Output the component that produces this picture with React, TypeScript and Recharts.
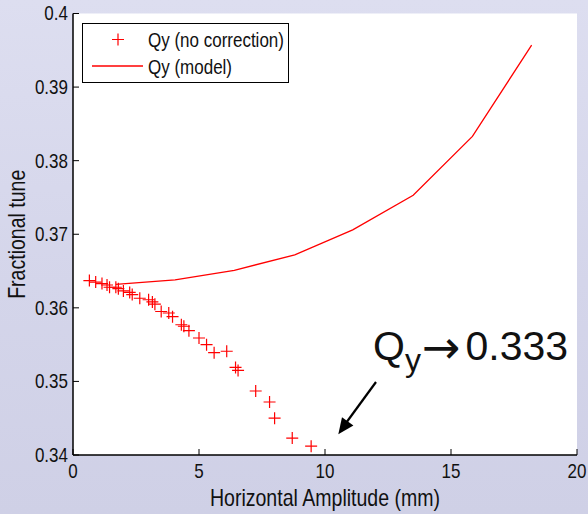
import React from "react"
import { ScatterChart, Scatter, XAxis, YAxis, CartesianGrid, Legend } from "recharts"

// measured amplitude (mm) and vertical tune, no correction
const ampNoCorr = [
  0.65, 0.9, 1.15, 1.35, 1.45, 1.7, 1.8, 2.0, 2.25, 2.35, 2.65, 3.0, 3.15, 3.25, 3.5, 3.8,
  3.95, 4.3, 4.4, 4.6, 5.0, 5.3, 5.6, 6.1, 6.45, 6.55, 7.25, 7.8, 8.0, 8.7, 9.45,
]
const tuneNoCorr = [
  0.3637, 0.3635, 0.3633, 0.3631, 0.3628, 0.3628, 0.3626, 0.3623, 0.3621, 0.3618, 0.3613,
  0.3611, 0.3608, 0.3605, 0.3595, 0.3593, 0.3588, 0.3577, 0.3575, 0.3569, 0.3559, 0.355,
  0.3539, 0.3541, 0.3519, 0.3515, 0.3487, 0.3472, 0.345, 0.3423, 0.3412,
]

// model curve
const ampModel = [1.7, 4.05, 6.4, 8.8, 11.1, 13.5, 15.85, 18.2]
const tuneModel = [0.3632, 0.3638, 0.3651, 0.3672, 0.3706, 0.3753, 0.3833, 0.3957]

const xTicks = [0, 5, 10, 15, 20]
const yTicks = [0.34, 0.35, 0.36, 0.37, 0.38, 0.39, 0.4]

const FONT = "'Liberation Sans', Arial, Helvetica, sans-serif"
const RED = "#ff0000"
const SX = 0.85 // text in the original is a bit squashed horizontally

const squash = (x: number) => `translate(${x} 0) scale(${SX} 1) translate(${-x} 0)`

const noCorr = ampNoCorr.map((x, i) => ({ x, y: tuneNoCorr[i] }))
const model = ampModel.map((x, i) => ({ x, y: tuneModel[i] }))

const BottomTick = ({ x, y, payload }: any) => (
  <g>
    <line x1={x} y1={y} x2={x} y2={y - 6} stroke="#000" />
    <text x={x} y={y + 23} textAnchor="middle" fontSize={20} fontFamily={FONT} fill="#111" transform={squash(x)}>
      {payload.value}
    </text>
  </g>
)

const TopTick = ({ x, y }: any) => <line x1={x} y1={y} x2={x} y2={y + 6} stroke="#000" />

const LeftTick = ({ x, y, payload }: any) => (
  <g>
    <line x1={x} y1={y} x2={x + 6} y2={y} stroke="#000" />
    <text x={x - 5} y={y + 7} textAnchor="end" fontSize={20} fontFamily={FONT} fill="#111" transform={squash(x - 5)}>
      {String(payload.value)}
    </text>
  </g>
)

const RightTick = ({ x, y }: any) => <line x1={x} y1={y} x2={x - 6} y2={y} stroke="#000" />

const Plus = ({ cx, cy }: any) => (
  <path d={`M${cx - 6},${cy}h12M${cx},${cy - 6}v12`} stroke={RED} strokeWidth={1.2} fill="none" />
)

const XTitle = ({ viewBox }: any) => {
  const cx = viewBox.x + viewBox.width / 2
  return (
    <text x={cx} y={viewBox.y + 51} textAnchor="middle" fontSize={23} fontFamily={FONT} fill="#111" transform={squash(cx)}>
      Horizontal Amplitude (mm)
    </text>
  )
}

const YTitle = ({ viewBox }: any) => {
  const cy = viewBox.y + viewBox.height / 2
  return (
    <text x={0} y={0} textAnchor="middle" fontSize={23} fontFamily={FONT} fill="#111"
      transform={`translate(25 ${cy}) rotate(-90) scale(${SX} 1)`}>
      Fractional tune
    </text>
  )
}

const LegendBox = () => (
  <svg width={207} height={60} style={{ display: "block" }}>
    <rect x={0.5} y={0.5} width={206} height={59} fill="#fff" stroke="#000" />
    <path d="M30,16.5h12M36,10.5v12" stroke={RED} strokeWidth={1.2} />
    <text x={66} y={24} fontSize={20} fontFamily={FONT} fill="#111" transform={squash(66)}>
      Qy (no correction)
    </text>
    <line x1={10} y1={43} x2={61} y2={43} stroke={RED} strokeWidth={1.3} />
    <text x={66} y={51} fontSize={20} fontFamily={FONT} fill="#111" transform={squash(66)}>
      Qy (model)
    </text>
  </svg>
)

export default function App() {
  return (
    <div
      style={{
        position: "absolute", left: 0, top: 0, width: 588, height: 514,
        background: "linear-gradient(180deg, #dddef0 0%, #d4d5ea 55%, #cfd0e6 100%)",
      }}
    >
      <ScatterChart width={588} height={514} margin={{ top: 13.5, right: 11, bottom: 29, left: 13 }}>
        <CartesianGrid fill="#fff" horizontal={false} vertical={false} />
        <XAxis
          type="number" dataKey="x" domain={[0, 20]} ticks={xTicks} allowDataOverflow
          height={30} tickSize={0} tickMargin={0} tickLine={false} tick={BottomTick}
          axisLine={{ stroke: "#000", strokeWidth: 1.5 }} label={XTitle}
        />
        <XAxis
          xAxisId="top" orientation="top" type="number" domain={[0, 20]} ticks={xTicks} allowDataOverflow
          height={0} tickSize={0} tickMargin={0} tickLine={false} tick={TopTick}
          axisLine={{ stroke: "#000", strokeWidth: 1.5 }}
        />
        <YAxis
          type="number" dataKey="y" domain={[0.34, 0.4]} ticks={yTicks} allowDataOverflow
          width={60} tickSize={0} tickMargin={0} tickLine={false} tick={LeftTick}
          axisLine={{ stroke: "#000", strokeWidth: 1.5 }} label={YTitle}
        />
        <YAxis
          yAxisId="right" orientation="right" type="number" domain={[0.34, 0.4]} ticks={yTicks} allowDataOverflow
          width={0} tickSize={0} tickMargin={0} tickLine={false} tick={RightTick}
          axisLine={{ stroke: "#000", strokeWidth: 1.5 }}
        />
        <Legend
          layout="horizontal" verticalAlign="middle" align="center"
          content={LegendBox}
          wrapperStyle={{ position: "absolute", left: 82, top: 23, width: 207, height: 60, margin: 0 }}
        />
        <Scatter name="Qy (model)" data={model} isAnimationActive={false}
          line={{ stroke: RED, strokeWidth: 1.3 }} shape={() => <g />} />
        <Scatter name="Qy (no correction)" data={noCorr} isAnimationActive={false} shape={Plus} />
      </ScatterChart>
      <svg width={588} height={514} style={{ position: "absolute", left: 0, top: 0, pointerEvents: "none" }}>
        <text x={373} y={360} fontSize={41} fontFamily={FONT} fill="#111">
          Q
          <tspan fontSize={32} dy={11}>y</tspan>
          <tspan fontSize={46} dy={-8} dx={1} fontFamily="'DejaVu Sans', sans-serif">→</tspan>
          <tspan fontSize={41} dy={-3} dx={5}>0.333</tspan>
        </text>
        <line x1={376} y1={382} x2={346} y2={423} stroke="#000" strokeWidth={2.2} />
        <polygon points="338.3,434.3 353.4,425.5 342,417.3" fill="#000" />
      </svg>
    </div>
  )
}
